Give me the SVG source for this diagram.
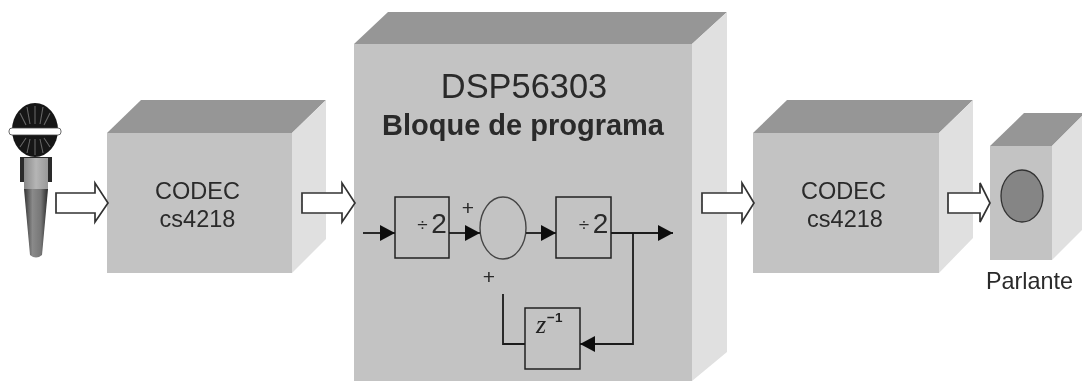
<svg xmlns="http://www.w3.org/2000/svg" width="1082" height="381" viewBox="0 0 1082 381">
<style>
.front{fill:#c3c3c3}.top{fill:#969696}.side{fill:#e0e0e0}
.t{font-family:"Liberation Sans",Arial,sans-serif;fill:#2a2a2a;text-anchor:middle}
.h{fill:#fff;stroke:#333;stroke-width:1.7}
.b{fill:none;stroke:#222;stroke-width:1.5}
.l{fill:none;stroke:#1a1a1a;stroke-width:1.8}
</style>
<defs>
<marker id="a" markerUnits="userSpaceOnUse" markerWidth="15" markerHeight="16" refX="15" refY="8" orient="auto"><path d="M0 0L15 8L0 16z" fill="#111"/></marker>
<filter id="s" x="-5%" y="-5%" width="110%" height="110%"><feGaussianBlur stdDeviation="0.45"/></filter>
<linearGradient id="hd" x1="0" x2="1" y1="0" y2="0"><stop offset="0" stop-color="#333"/><stop offset=".35" stop-color="#8a8a8a"/><stop offset=".7" stop-color="#777"/><stop offset="1" stop-color="#2a2a2a"/></linearGradient>
<linearGradient id="cl" x1="0" x2="1" y1="0" y2="0"><stop offset="0" stop-color="#888"/><stop offset=".5" stop-color="#b5b5b5"/><stop offset="1" stop-color="#999"/></linearGradient>
</defs>
<rect width="1082" height="381" fill="#fff"/>
<g filter="url(#s)">
<g id="mic">
<ellipse cx="35" cy="130" rx="23" ry="27" fill="#161616"/>
<path d="M35 106V124M27 107L30 124M43 107L40 124M20 113L26 125M50 113L44 125M35 139V155M27 153L30 139M43 153L40 139M20 147L26 138M50 147L44 138" stroke="#666" stroke-width="1.1" fill="none"/>
<rect x="9" y="128" width="52" height="7" rx="3" fill="#fff" stroke="#444" stroke-width="0.8"/>
<rect x="20" y="157" width="32" height="25" fill="#2a2a2a"/>
<rect x="24" y="158" width="24" height="31" fill="url(#cl)"/>
<path d="M24 189H48L42 255Q36 260 30 255z" fill="url(#hd)"/>
</g>
<g id="codec1">
<path class="top" d="M107 133L141 100H326L292 133z"/>
<path class="side" d="M292 133L326 100V239L292 273z"/>
<rect class="front" x="107" y="133" width="185" height="140"/>
<text class="t" font-size="23.5" x="197.500" y="199">CODEC</text>
<text class="t" font-size="23.5" x="197.500" y="227">cs4218</text>
</g>
<g id="dsp">
<path class="top" d="M354 44L388 12H727L692 44z"/>
<path class="side" d="M692 44L727 12V352L692 381z"/>
<rect class="front" x="354" y="44" width="338" height="337"/>
<text class="t" font-size="34.400" x="524" y="98">DSP56303</text>
<text class="t" font-size="29" font-weight="700" x="523" y="135">Bloque de programa</text>
</g>
<g id="codec2">
<path class="top" d="M753 133L787 100H973L939 133z"/>
<path class="side" d="M939 133L973 100V238L939 273z"/>
<rect class="front" x="753" y="133" width="186" height="140"/>
<text class="t" font-size="23.5" x="843.500" y="199">CODEC</text>
<text class="t" font-size="23.5" x="845" y="227">cs4218</text>
</g>
<g id="speaker">
<path class="top" d="M990 146L1024 113H1082V116L1052 146z"/>
<path class="side" d="M1052 146L1082 116V230L1052 260z"/>
<rect class="front" x="990" y="146" width="62" height="114"/>
<ellipse cx="1022" cy="196" rx="21" ry="26" fill="#858585" stroke="#333" stroke-width="1.3"/>
<text class="t" font-size="23.400" x="1029.500" y="289">Parlante</text>
</g>
<g id="div1">
<rect class="b" x="395" y="197" width="54" height="61"/>
<text class="t" font-size="19" x="422.500" y="231">÷</text>
<text class="t" font-size="28" x="439" y="233">2</text>
</g>
<g id="sum">
<ellipse cx="503" cy="228" rx="23" ry="31" fill="none" stroke="#444" stroke-width="1.4"/>
<text class="t" font-size="21" x="468" y="215">+</text>
<text class="t" font-size="21" x="489" y="284">+</text>
</g>
<g id="div2">
<rect class="b" x="556" y="197" width="55" height="61"/>
<text class="t" font-size="19" x="584" y="231">÷</text>
<text class="t" font-size="28" x="600.500" y="233">2</text>
</g>
<g id="delay">
<rect class="b" x="525" y="308" width="55" height="61"/>
<text x="536" y="333" font-family="Liberation Serif,serif" font-style="italic" font-size="26" fill="#222">z</text>
<text x="547" y="322" font-family="Liberation Sans,sans-serif" font-weight="700" font-size="13.500" fill="#222">−1</text>
</g>
<g id="connectors">
<path class="h" d="M56 193H95V183L108 203L95 222V213H56z"/>
<path class="h" d="M302 193H342V183L355 203L342 222V213H302z"/>
<path class="h" d="M702 193H742V183L754 203L742 222V213H702z"/>
<path class="h" d="M948 193H980V183L990 203L980 222V213H948z"/>
<path class="l" d="M363 233H395" marker-end="url(#a)"/>
<path class="l" d="M449 233H480" marker-end="url(#a)"/>
<path class="l" d="M526 233H556" marker-end="url(#a)"/>
<path class="l" d="M611 233H673" marker-end="url(#a)"/>
<path class="l" d="M633 233V344H580" marker-end="url(#a)"/>
<path class="l" d="M525 344H503V294"/>
</g>
</g>
</svg>
